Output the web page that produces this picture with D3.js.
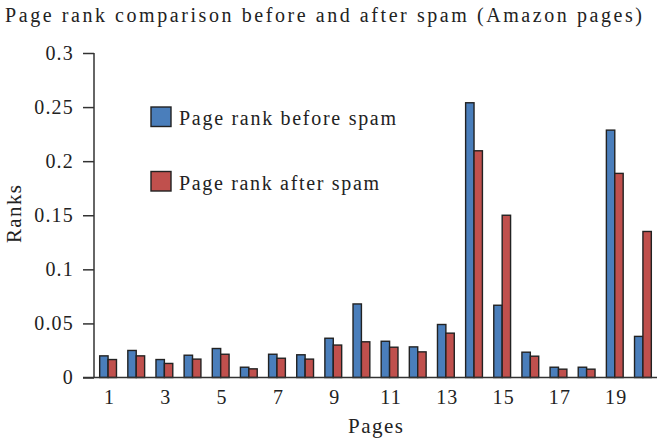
<!DOCTYPE html>
<html><head><meta charset="utf-8">
<script src="https://cdn.jsdelivr.net/npm/d3@7"></script>
<style>body{margin:0;background:#fff}svg{display:block}text{font-family:"Liberation Serif","DejaVu Serif",serif;fill:#222}</style>
</head><body>
<svg id="c" width="658" height="443"></svg>
<script>
const pages = d3.range(1, 21);
const seriesNames = ["Page rank before spam", "Page rank after spam"];
const before = [0.020,0.025,0.0166,0.0206,0.0268,0.0095,0.0215,0.021,0.0363,0.068,0.0335,0.0283,0.049,0.254,0.0668,0.0234,0.0095,0.0095,0.2287,0.038];
const after  = [0.0166,0.020,0.013,0.017,0.0215,0.008,0.0178,0.017,0.030,0.033,0.028,0.0237,0.041,0.2096,0.150,0.0197,0.0077,0.0077,0.1887,0.135];
const yTicks = [0,0.05,0.1,0.15,0.2,0.25,0.3];
const xTickLabels = [1,3,5,7,9,11,13,15,17,19];
const colors = ["#4a7ebb","#c0504d"];

const svg = d3.select("#c");
const x = d3.scaleBand().domain(pages).range([94, 657]).paddingInner(0).paddingOuter(0);
const y = d3.scaleLinear().domain([0, 0.3]).range([377.5, 53]);
const barW = 8.4;

// y axis
const yAxis = svg.append("g").attr("transform","translate(94,0)")
  .call(d3.axisLeft(y).tickValues(yTicks).tickFormat(d => d3.format("")(d)).tickSize(11).tickPadding(9));
yAxis.select(".domain").attr("d", `M0,${y(0.3)}V${y(0)}`);
yAxis.selectAll("line,path").attr("stroke","#333").attr("stroke-width",1.5);
yAxis.selectAll("text").style("font-size","20px").style("letter-spacing","1.2px").attr("fill","#222").attr("font-family",null);

// bars
const data = [before, after];
data.forEach((vals, s) => {
  svg.append("g").selectAll("rect").data(pages).join("rect")
    .attr("x", p => x(p) + x.bandwidth()/2 - barW + s*barW)
    .attr("y", (p,i) => y(vals[i]))
    .attr("width", barW)
    .attr("height", (p,i) => y(0) - y(vals[i]))
    .attr("fill", colors[s]).attr("stroke","#222").attr("stroke-width",1.4);
});

// x axis
const xAxis = svg.append("g").attr("transform",`translate(0,${y(0)})`)
  .call(d3.axisBottom(x).tickValues(xTickLabels).tickSize(0).tickPadding(12));
xAxis.select(".domain").attr("d", `M83,0H657`).attr("stroke","#333").attr("stroke-width",1.5);
xAxis.selectAll("text").style("font-size","20px").style("letter-spacing","1.2px").attr("dx","1.5").attr("fill","#222").attr("font-family",null);

// title & labels
svg.append("text").attr("x",5).attr("y",22).style("font-size","20px")
  .attr("textLength",637).attr("lengthAdjust","spacing")
  .text("Page rank comparison before and after spam (Amazon pages)");
svg.append("text").attr("x",348).attr("y",433).style("font-size","21px")
  .attr("textLength",55).attr("lengthAdjust","spacing").text("Pages");
svg.append("text").attr("transform","translate(21,243) rotate(-90)").style("font-size","21px")
  .attr("textLength",58).attr("lengthAdjust","spacing").text("Ranks");

// legend
const legLens = [217, 200];
const leg = svg.append("g");
seriesNames.forEach((n, i) => {
  const g = leg.append("g").attr("transform",`translate(151,${107 + i*64.5})`);
  g.append("rect").attr("width",20).attr("height",19.5).attr("fill",colors[i]).attr("stroke","#222").attr("stroke-width",1.4);
  g.append("text").attr("x",28).attr("y",18).style("font-size","20px")
    .attr("textLength",legLens[i]).attr("lengthAdjust","spacing").text(n);
});
</script>
</body></html>
